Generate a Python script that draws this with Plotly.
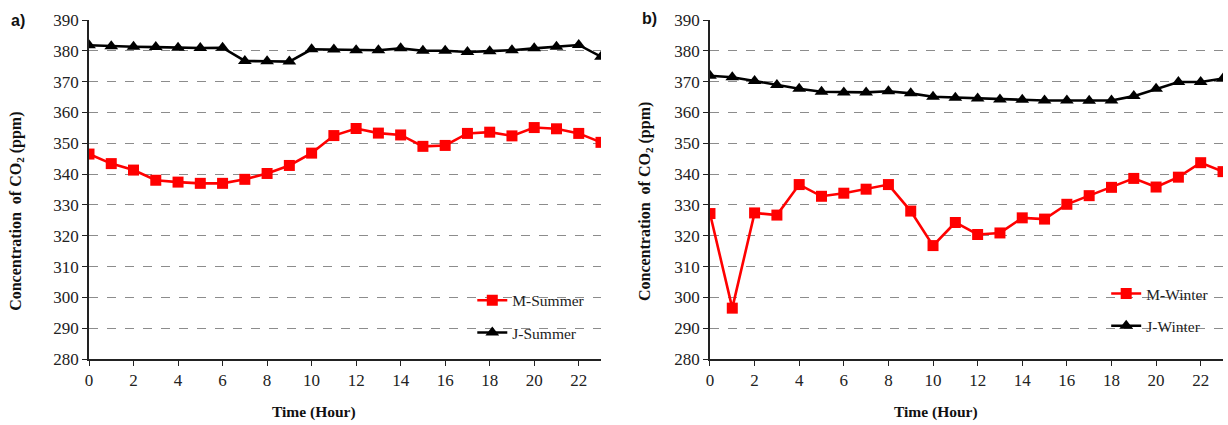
import plotly.graph_objects as go

# Hourly CO2 concentration (ppm)
hours = list(range(24))

m_summer = [346.5, 343.4, 341.3, 338.0, 337.4, 337.0, 337.0, 338.3, 340.2, 342.8,
            346.8, 352.5, 354.8, 353.3, 352.7, 349.0, 349.3, 353.2, 353.6, 352.4,
            355.1, 354.7, 353.2, 350.3]
j_summer = [381.8, 381.5, 381.3, 381.2, 381.0, 380.9, 381.0, 376.7, 376.6, 376.5,
            380.5, 380.4, 380.2, 380.2, 380.8, 380.0, 380.0, 379.6, 379.9, 380.2,
            380.8, 381.3, 381.9, 378.1]

m_winter = [327.2, 296.5, 327.4, 326.7, 336.6, 332.8, 333.8, 335.1, 336.6, 328.0,
            316.8, 324.3, 320.4, 320.9, 325.8, 325.4, 330.2, 333.0, 335.7, 338.6,
            335.8, 339.0, 343.7, 340.8]
j_winter = [371.9, 371.4, 370.2, 368.9, 367.7, 366.7, 366.5, 366.5, 366.9, 366.2,
            365.1, 364.8, 364.5, 364.2, 364.1, 363.9, 363.9, 363.8, 363.9, 365.3,
            367.7, 369.9, 369.9, 371.0]

x_ticks = list(range(0, 24, 2))
y_ticks = list(range(280, 391, 10))

SERIF = "Liberation Serif"
RED = "#ff0000"
BLACK = "#000000"

fig = go.Figure()

def add_series(x, y, name, color, symbol, xaxis, yaxis, legend, group):
    fig.add_trace(go.Scatter(
        x=x, y=y, name=name, mode="lines+markers",
        line=dict(color=color, width=2.6),
        marker=dict(symbol=symbol, size=11 if symbol == "square" else 12, color=color),
        xaxis=xaxis, yaxis=yaxis, legend=legend, legendgroup=group,
    ))

add_series(hours, m_summer, "M-Summer", RED, "square", "x", "y", "legend", "m1")
add_series(hours, j_summer, "J-Summer", BLACK, "triangle-up", "x", "y", "legend", "j1")
add_series(hours, m_winter, "M-Winter", RED, "square", "x2", "y2", "legend2", "m2")
add_series(hours, j_winter, "J-Winter", BLACK, "triangle-up", "x2", "y2", "legend2", "j2")

x_common = dict(
    range=[0, 23], tickmode="array", tickvals=x_ticks, ticks="outside",
    ticklen=5, tickcolor="#222", showline=True, linecolor="#222", linewidth=1.5,
    showgrid=False, zeroline=False,
    tickfont=dict(family=SERIF, size=17, color="#222"),
)
y_common = dict(
    range=[280, 390], tickmode="array", tickvals=y_ticks, ticks="outside",
    ticklen=5, tickcolor="#222", showline=True, linecolor="#222", linewidth=1.5,
    showgrid=True, gridcolor="#8c8c8c", griddash="dash", gridwidth=1,
    zeroline=False, tickfont=dict(family=SERIF, size=17, color="#222"),
)

legend_common = dict(
    font=dict(family=SERIF, size=15.5, color="#222"),
    bgcolor="rgba(0,0,0,0)", borderwidth=0, xanchor="left", yanchor="top",
    tracegroupgap=9, itemwidth=30,
)

fig.update_layout(
    width=1228, height=425,
    margin=dict(l=89, r=5, t=20, b=66),
    plot_bgcolor="white", paper_bgcolor="white",
    showlegend=True,
    xaxis=dict(domain=[0, 0.4515], anchor="y", **x_common),
    yaxis=dict(domain=[0, 1], anchor="x", **y_common),
    xaxis2=dict(domain=[0.5476, 1], anchor="y2", **x_common),
    yaxis2=dict(domain=[0, 1], anchor="x2", **y_common),
    legend=dict(x=0.338, y=0.222, **legend_common),
    legend2=dict(x=0.897, y=0.242, **legend_common),
)

y_title = "Concentration  of CO<sub>2</sub> (ppm)"
annotations = [
    dict(text="<b>a)</b>", x=-0.063, y=1.0, xref="paper", yref="paper",
         xanchor="center", yanchor="middle", showarrow=False,
         font=dict(family="Liberation Sans", size=16, color="#111")),
    dict(text="<b>b)</b>", x=0.494, y=1.005, xref="paper", yref="paper",
         xanchor="center", yanchor="middle", showarrow=False,
         font=dict(family="Liberation Sans", size=16, color="#111")),
    dict(text="<b>" + y_title + "</b>", x=-0.0635, y=0.437, xref="paper", yref="paper",
         xanchor="center", yanchor="middle", textangle=-90, showarrow=False,
         font=dict(family=SERIF, size=16, color="#111")),
    dict(text="<b>" + y_title + "</b>", x=0.4903, y=0.463, xref="paper", yref="paper",
         xanchor="center", yanchor="middle", textangle=-90, showarrow=False,
         font=dict(family=SERIF, size=16, color="#111")),
    dict(text="<b>Time (Hour)</b>", x=0.198, y=-0.155, xref="paper", yref="paper",
         xanchor="center", yanchor="middle", showarrow=False,
         font=dict(family=SERIF, size=15.5, color="#111")),
    dict(text="<b>Time (Hour)</b>", x=0.747, y=-0.155, xref="paper", yref="paper",
         xanchor="center", yanchor="middle", showarrow=False,
         font=dict(family=SERIF, size=15.5, color="#111")),
]
fig.update_layout(annotations=annotations)

fig.write_html("out.html")
